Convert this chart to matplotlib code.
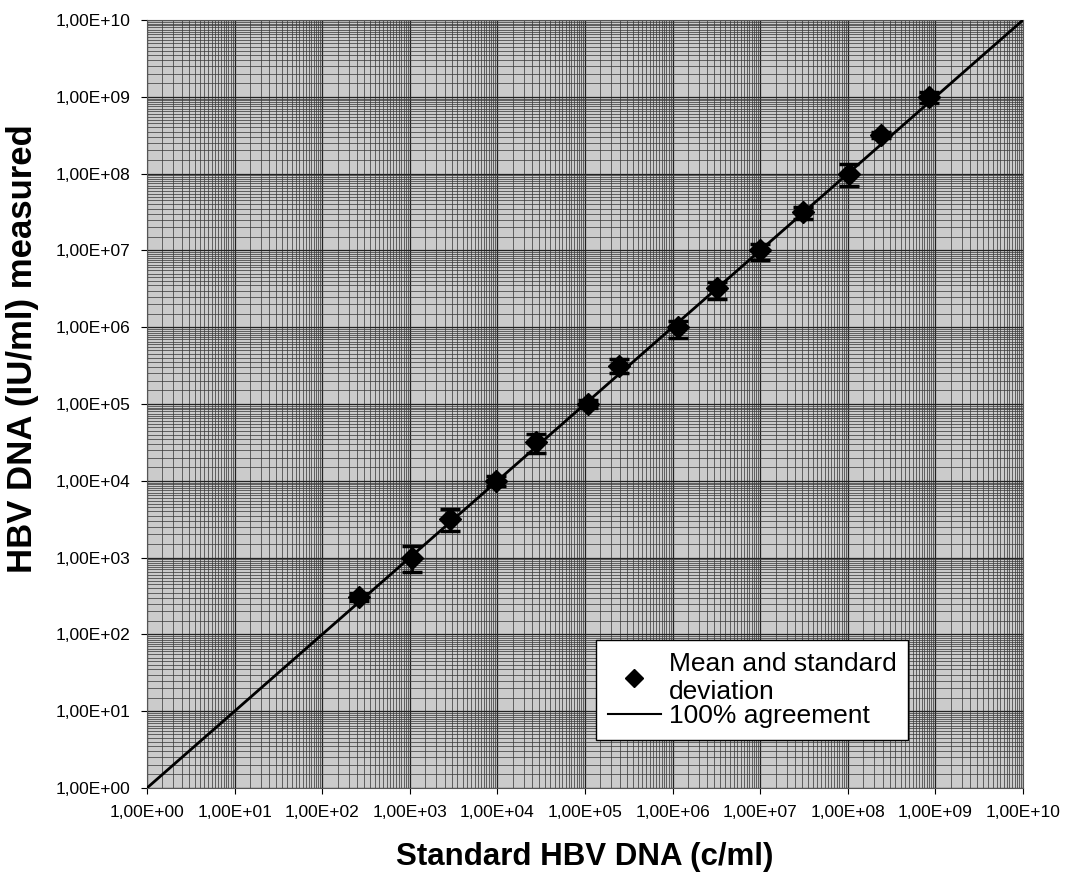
import matplotlib
matplotlib.use("Agg")
import matplotlib.pyplot as plt
from matplotlib.lines import Line2D
from matplotlib.ticker import FuncFormatter, LogLocator, NullFormatter
import numpy as np

plt.rcParams["font.family"] = ["Liberation Sans", "DejaVu Sans"]

# Standard vs measured HBV DNA
x_std = [2.6e2, 1.05e3, 2.9e3, 9.6e3, 2.75e4, 1.08e5, 2.45e5,
         1.15e6, 3.2e6, 1.0e7, 3.1e7, 1.03e8, 2.4e8, 8.5e8]
y_mean = [3.1e2, 1.0e3, 3.2e3, 1.0e4, 3.2e4, 1.0e5, 3.1e5,
          1.0e6, 3.2e6, 1.0e7, 3.2e7, 1.0e8, 3.2e8, 1.0e9]
y_low = [2.7e2, 6.5e2, 2.2e3, 8.5e3, 2.3e4, 8.8e4, 2.5e5,
         7.2e5, 2.3e6, 7.5e6, 2.6e7, 6.8e7, 2.9e8, 8.3e8]
y_high = [3.5e2, 1.4e3, 4.3e3, 1.15e4, 4.1e4, 1.12e5, 3.8e5,
          1.2e6, 3.9e6, 1.2e7, 3.7e7, 1.35e8, 3.5e8, 1.15e9]
agree = [1e0, 1e10]


def _sci_comma(v, pos):
    e = int(round(np.log10(v)))
    return f"1,00E+{e:02d}"


fig = plt.figure(figsize=(10.65, 8.74), dpi=100)
ax = fig.add_axes([0.138, 0.0984, 0.8226, 0.8787])
ax.set_facecolor("#cbcbcb")

ax.set_xscale("log")
ax.set_yscale("log")
ax.set_xlim(1, 1e10)
ax.set_ylim(1, 1e10)

# dense graph-paper grid
subs = np.arange(1.0, 10.0, 0.5)
ax.xaxis.set_minor_locator(LogLocator(base=10, subs=subs, numticks=100))
ax.yaxis.set_minor_locator(LogLocator(base=10, subs=subs, numticks=100))
ax.xaxis.set_minor_formatter(NullFormatter())
ax.yaxis.set_minor_formatter(NullFormatter())
ax.xaxis.set_major_locator(LogLocator(base=10, numticks=20))
ax.yaxis.set_major_locator(LogLocator(base=10, numticks=20))
ax.grid(True, which="minor", color="#3a3a3a", linewidth=0.7, alpha=0.75)
ax.grid(True, which="major", color="#222", linewidth=0.9)
ax.tick_params(which="minor", length=0)
ax.tick_params(which="major", length=4, width=0.8, labelsize=12.5, pad=8)

ax.xaxis.set_major_formatter(FuncFormatter(_sci_comma))
ax.yaxis.set_major_formatter(FuncFormatter(_sci_comma))

for s in ax.spines.values():
    s.set_color("#555")
    s.set_linewidth(0.8)

ax.plot(agree, agree, color="black", linewidth=2, zorder=4)

yerr = [np.array(y_mean) - np.array(y_low), np.array(y_high) - np.array(y_mean)]
ax.errorbar(x_std, y_mean, yerr=yerr, fmt="D", color="black", markersize=11,
            ecolor="black", elinewidth=2, capsize=7, capthick=2.5, zorder=5)

# legend shows only the diamond, not the error bar
handles = [
    Line2D([], [], linestyle="none", marker="D", color="black", markersize=9),
    Line2D([], [], color="black", linewidth=1.5),
]
labels = ["Mean and standard\ndeviation", "100% agreement"]
leg = ax.legend(handles, labels, loc="lower right", bbox_to_anchor=(0.869, 0.0625),
                fontsize=19, frameon=True, fancybox=False, framealpha=1,
                edgecolor="black", handlelength=2.0, handletextpad=0.3,
                borderpad=0.45, labelspacing=0.0, borderaxespad=0)
leg.get_frame().set_linewidth(1.0)

ax.set_xlabel("Standard HBV DNA (c/ml)", fontsize=22.5, fontweight="bold", labelpad=16)
ax.set_ylabel("HBV DNA (IU/ml) measured", fontsize=25, fontweight="bold",
              va="center")
ax.yaxis.set_label_coords(-0.1416, 0.572)

fig.savefig("out.png", dpi=100)
plt.close(fig)
